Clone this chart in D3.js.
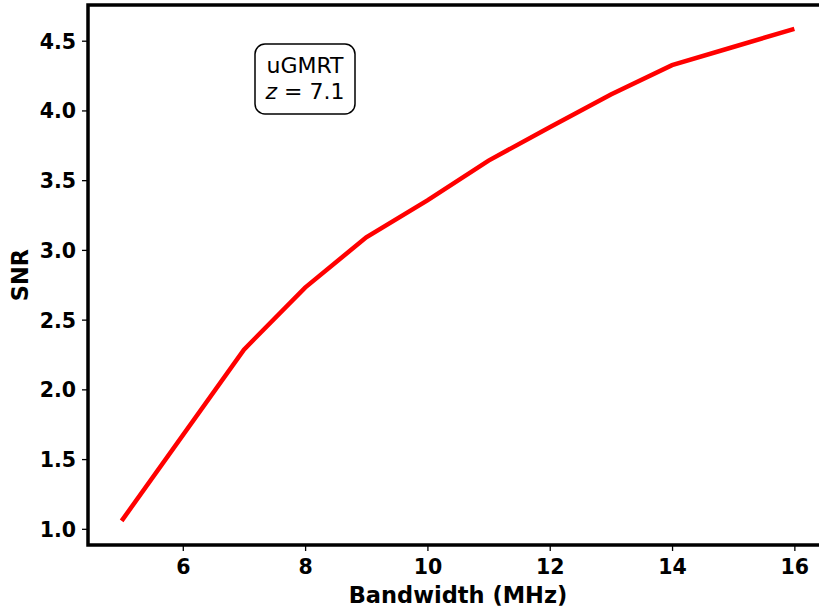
<!DOCTYPE html>
<html lang="en">
<head>
<meta charset="UTF-8">
<title>SNR vs Bandwidth</title>
<script src="https://d3js.org/d3.v7.min.js"></script>
<style>
  body { margin: 0; background: #fff; }
  svg { display: block; }
  .tick text { font-family: "DejaVu Sans", sans-serif; font-weight: bold; font-size: 20.5px; fill: #000; }
  .label { font-family: "DejaVu Sans", sans-serif; font-weight: bold; font-size: 22.5px; }
  .note { font-family: "DejaVu Sans", sans-serif; font-size: 22px; }
</style>
</head>
<body>
<svg width="819" height="612"></svg>
<script>
const bandwidth = [5, 7, 8, 9, 10, 11, 12, 13, 14, 15, 16];
const snr = [1.057, 2.285, 2.73, 3.09, 3.355, 3.64, 3.88, 4.115, 4.325, 4.455, 4.585];
const xTicks = [6, 8, 10, 12, 14, 16];
const yTicks = [1.0, 1.5, 2.0, 2.5, 3.0, 3.5, 4.0, 4.5];

const svg = d3.select("svg");
const margin = { left: 88, top: 5, right: 828, bottom: 545 };

const x = d3.scaleLinear().domain([4.45, 16.55]).range([margin.left, margin.right]);
const y = d3.scaleLinear().domain([0.884, 4.756]).range([margin.bottom, margin.top]);

// axes
const xAxis = svg.append("g")
  .attr("transform", `translate(0,${margin.bottom})`)
  .call(d3.axisBottom(x).tickValues(xTicks).tickSize(6).tickPadding(6).tickFormat(d3.format("d")));
const yAxis = svg.append("g")
  .attr("transform", `translate(${margin.left},0)`)
  .call(d3.axisLeft(y).tickValues(yTicks).tickSize(6).tickPadding(6).tickFormat(d3.format(".1f")));
[xAxis, yAxis].forEach(g => {
  g.select(".domain").remove();
  g.selectAll(".tick line").attr("stroke", "#000").attr("stroke-width", 1.3);
});
xAxis.selectAll(".tick text").attr("dy", "0.85em");
yAxis.selectAll(".tick text").attr("dy", "0.36em");

// data line
svg.append("path")
  .datum(bandwidth.map((b, i) => [b, snr[i]]))
  .attr("fill", "none")
  .attr("stroke", "red")
  .attr("stroke-width", 4.5)
  .attr("d", d3.line().x(d => x(d[0])).y(d => y(d[1])));

// frame
svg.append("rect")
  .attr("x", margin.left).attr("y", margin.top)
  .attr("width", margin.right - margin.left).attr("height", margin.bottom - margin.top)
  .attr("fill", "none").attr("stroke", "#000").attr("stroke-width", 3.5);

// labels
svg.append("text").attr("class", "label")
  .attr("x", 458).attr("y", 603)
  .attr("text-anchor", "middle").text("Bandwidth (MHz)");
svg.append("text").attr("class", "label")
  .attr("transform", `translate(28,${(margin.top + margin.bottom) / 2}) rotate(-90)`)
  .attr("text-anchor", "middle").text("SNR");

// annotation box
const note = svg.append("g");
note.append("rect")
  .attr("x", 255).attr("y", 44).attr("width", 100).attr("height", 70)
  .attr("rx", 10).attr("fill", "#fff").attr("stroke", "#000").attr("stroke-width", 1.5);
note.append("text").attr("class", "note")
  .attr("x", 305).attr("y", 73).attr("text-anchor", "middle").text("uGMRT");
const zt = note.append("text").attr("class", "note")
  .attr("x", 305).attr("y", 99).attr("text-anchor", "middle");
zt.append("tspan").attr("font-style", "italic").text("z");
zt.append("tspan").text(" = 7.1");
</script>
</body>
</html>
